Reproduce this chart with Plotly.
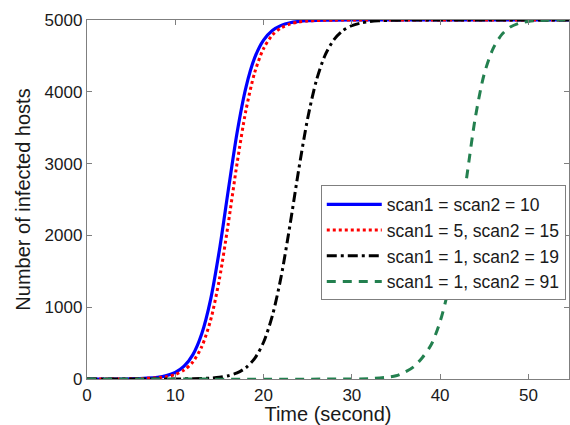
import plotly.graph_objects as go

# Time samples (seconds) and infected-host counts
t_a = [0, 5, 8, 9, 10, 11, 12, 13, 14, 15, 16, 17, 18, 19, 20, 21, 22, 23, 24, 25, 26, 28, 30, 55]
y_a = [0, 3, 24, 47, 92, 178, 340, 630, 1106, 1797, 2627, 3431, 4059, 4475, 4719, 4854, 4925, 4962, 4980, 4990, 4995, 4999, 5000, 5000]

t_b = [0, 5, 8, 9, 10, 11, 12, 13, 14, 15, 16, 17, 18, 19, 20, 21, 22, 23, 24, 25, 26, 28, 30, 55]
y_b = [0, 2, 17, 33, 64, 124, 239, 451, 818, 1392, 2162, 3003, 3740, 4271, 4602, 4790, 4891, 4944, 4972, 4986, 4993, 4998, 5000, 5000]

t_c = [0, 10, 12, 14, 15, 16, 17, 18, 19, 20, 21, 22, 23, 24, 25, 26, 27, 28, 29, 30, 31, 32, 33, 35, 55]
y_c = [0, 1, 4, 13, 24, 46, 85, 157, 287, 512, 882, 1431, 2148, 2929, 3632, 4165, 4518, 4731, 4853, 4921, 4957, 4977, 4988, 4997, 5000]

t_d = [0, 30, 32, 34, 35, 36, 37, 38, 39, 40, 41, 42, 43, 44, 45, 46, 47, 48, 49, 50, 51, 52, 55]
y_d = [0, 0, 5, 25, 45, 95, 170, 300, 480, 800, 1280, 1950, 2800, 3650, 4250, 4600, 4800, 4905, 4957, 4980, 4992, 4997, 5000]

names = ["scan1 = scan2 = 10", "scan1 = 5, scan2 = 15",
         "scan1 = 1, scan2 = 19", "scan1 = 1, scan2 = 91"]

x_ticks = [0, 10, 20, 30, 40, 50]
y_ticks = [0, 1000, 2000, 3000, 4000, 5000]

fig = go.Figure()
fig.add_trace(go.Scatter(x=t_a, y=y_a, mode="lines", name=names[0],
                         line=dict(color="#0000FF", width=3.2, shape="spline", smoothing=0.8)))
fig.add_trace(go.Scatter(x=t_b, y=y_b, mode="lines", name=names[1],
                         line=dict(color="#FF0000", width=3, dash="3px,3px", shape="spline", smoothing=0.8)))
fig.add_trace(go.Scatter(x=t_c, y=y_c, mode="lines", name=names[2],
                         line=dict(color="#000000", width=3, dash="10px,4px,3px,4px", shape="spline", smoothing=0.8)))
fig.add_trace(go.Scatter(x=t_d, y=y_d, mode="lines", name=names[3],
                         line=dict(color="#23804F", width=3, dash="9px,7px", shape="spline", smoothing=0.8)))

font_family = "Liberation Sans, Arial, sans-serif"
axis_common = dict(showline=True, linecolor="#7f7f7f", linewidth=1.3, mirror="ticks",
                   ticks="inside", ticklen=5, tickcolor="#7f7f7f", showgrid=False,
                   zeroline=False, tickfont=dict(size=17, color="#1a1a1a", family=font_family))

fig.update_layout(
    width=570, height=425,
    margin=dict(l=87, r=1, t=20, b=46),
    paper_bgcolor="white", plot_bgcolor="white",
    font=dict(family=font_family, color="#1a1a1a"),
    xaxis=dict(range=[0, 54.6], tickvals=x_ticks,
               title=dict(text="Time (second)", font=dict(size=20), standoff=2),
               **axis_common),
    yaxis=dict(range=[0, 5000], tickvals=y_ticks,
               title=dict(text="Number of infected hosts", font=dict(size=20), standoff=8),
               **axis_common),
    legend=dict(x=0.485, y=0.539, xanchor="left", yanchor="top",
                bgcolor="white", bordercolor="#7f7f7f", borderwidth=1,
                font=dict(size=17.5, family=font_family, color="#1a1a1a"),
                tracegroupgap=0, itemwidth=55),
    showlegend=True,
)

fig.write_html("out.html")
